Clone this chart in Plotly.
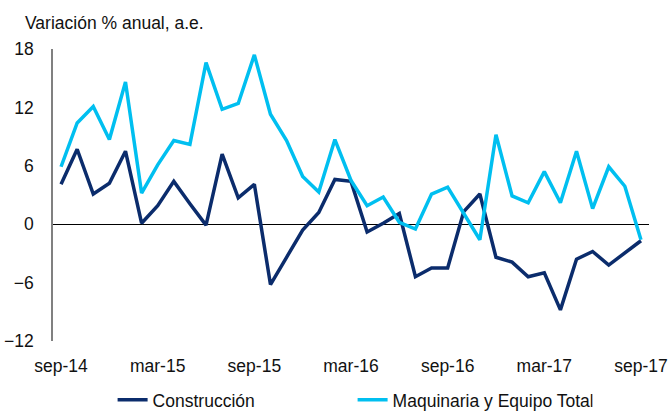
import plotly.graph_objects as go

months = ["sep-14","oct-14","nov-14","dic-14","ene-15","feb-15","mar-15","abr-15","may-15","jun-15","jul-15","ago-15",
          "sep-15","oct-15","nov-15","dic-15","ene-16","feb-16","mar-16","abr-16","may-16","jun-16","jul-16","ago-16",
          "sep-16","oct-16","nov-16","dic-16","ene-17","feb-17","mar-17","abr-17","may-17","jun-17","jul-17","ago-17","sep-17"]
construccion = [4.1, 7.7, 3.1, 4.2, 7.5, 0.1, 1.9, 4.4, 2.1, -0.1, 7.2, 2.7,
                4.1, -6.2, -3.4, -0.6, 1.2, 4.6, 4.4, -0.8, 0.1, 1.1, -5.4, -4.5,
                -4.5, 1.3, 3.1, -3.4, -3.9, -5.4, -5.0, -8.8, -3.6, -2.8, -4.2, -3.0, -1.7]
maquinaria = [5.9, 10.4, 12.1, 8.7, 14.6, 3.2, 6.1, 8.6, 8.2, 16.6, 11.8, 12.4,
              17.4, 11.3, 8.6, 4.9, 3.3, 8.7, 4.5, 1.9, 2.8, 0.2, -0.5, 3.1,
              3.8, 1.1, -1.6, 9.2, 2.9, 2.2, 5.4, 2.2, 7.5, 1.6, 5.9, 3.9, -1.6]
tick_labels = ["sep-14", "mar-15", "sep-15", "mar-16", "sep-16", "mar-17", "sep-17"]
y_ticks = [-12, -6, 0, 6, 12, 18]

DARK = "#0B2C6C"
LIGHT = "#00BFF0"
FONT = "Liberation Sans, Arial, sans-serif"
FS = 17.5

x = list(range(len(months)))
fig = go.Figure()
fig.add_trace(go.Scatter(x=x, y=construccion, mode="lines", name="Construcción",
                         line=dict(color=DARK, width=3.5)))
fig.add_trace(go.Scatter(x=x, y=maquinaria, mode="lines", name="Maquinaria y Equipo Total",
                         line=dict(color=LIGHT, width=3.5)))

fig.update_layout(
    width=671, height=413,
    margin=dict(l=53, r=22, t=49, b=72, autoexpand=False),
    paper_bgcolor="white", plot_bgcolor="white",
    font=dict(family=FONT, size=FS, color="#111111"),
    showlegend=True,
    legend=dict(orientation="h", x=0.10, xanchor="left", y=-0.14, yanchor="top",
                font=dict(size=FS), entrywidth=195, entrywidthmode="pixels",
                tracegroupgap=0, bgcolor="rgba(0,0,0,0)"),
    annotations=[dict(text="Variación % anual, a.e.", xref="paper", yref="paper",
                      x=-0.05, y=1.0, xanchor="left", yanchor="bottom", yshift=14,
                      showarrow=False, font=dict(size=FS, family=FONT))],
)
fig.update_xaxes(range=[-0.5, 36.5], tickmode="array",
                 tickvals=[x[months.index(t)] for t in tick_labels], ticktext=tick_labels,
                 showgrid=False, zeroline=False, showline=False, ticks="", ticklen=0,
                 automargin=False, ticklabelstandoff=12)
fig.update_yaxes(range=[-12, 18], tickmode="array", tickvals=y_ticks,
                 showgrid=False, zeroline=True, zerolinecolor="black", zerolinewidth=1,
                 showline=True, linecolor="#808080", linewidth=1.5, ticks="",
                 automargin=False, ticklabelstandoff=14)
fig.write_html("out.html", config={"displayModeBar": False},
               post_script="document.body.style.margin='0';")
